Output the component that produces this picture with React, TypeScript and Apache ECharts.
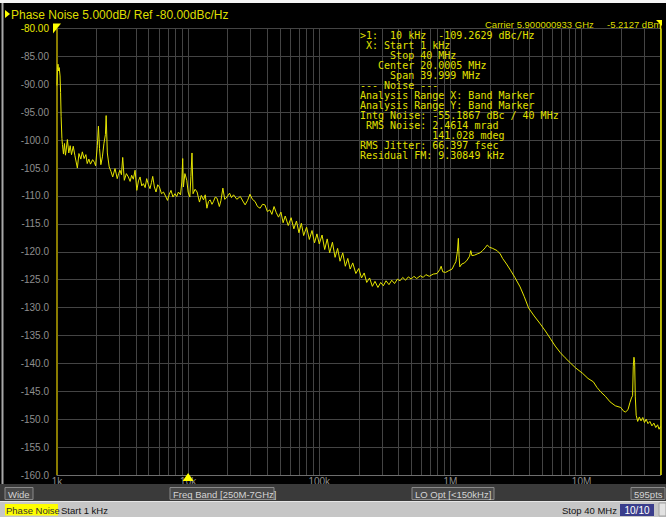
import React, { useEffect, useRef } from "react";
import * as echarts from "echarts";

// ---------- data ----------
const yMin = -160;
const yMax = -80;
const yStep = 5;
const xMinKHz = 1;
const xMaxKHz = 40000;
const xTickValues = [1, 10, 100, 1000, 10000];
const xTickLabels = ["1k", "10k", "100k", "1M", "10M"];
const decades = [1, 10, 100, 1000, 10000];
const minorMultipliers = [2, 3, 4, 5, 6, 7, 8, 9];
const markerKHz = 10;
const refLevel = -80;

// [frequency in kHz, phase noise in dBc/Hz]
const trace: [number, number][] = [
  [1.0, -90.2], [1.008, -87.3], [1.018, -86.4], [1.028, -87.6], [1.04, -87.0],
  [1.055, -88.5], [1.065, -91.5], [1.075, -95.8], [1.09, -99.7], [1.1, -100.8],
  [1.12, -102.5], [1.14, -100.6], [1.16, -102.7], [1.18, -101.4], [1.2, -99.9],
  [1.23, -102.3], [1.26, -101.0], [1.29, -102.6], [1.33, -101.1], [1.37, -102.8],
  [1.43, -105.0], [1.47, -102.4], [1.52, -103.4], [1.56, -102.1], [1.61, -103.3],
  [1.66, -102.6], [1.7, -104.2], [1.75, -103.4], [1.8, -104.3], [1.87, -103.5],
  [1.93, -104.0], [1.97, -104.6], [2.03, -101.0], [2.07, -97.5], [2.11, -101.5],
  [2.16, -104.4], [2.22, -103.0], [2.28, -100.6], [2.34, -99.0], [2.37, -95.6],
  [2.42, -102.3], [2.5, -104.8], [2.58, -105.6], [2.66, -106.6], [2.77, -105.1],
  [2.88, -106.9], [2.95, -106.0], [3.02, -105.4], [3.1, -106.2], [3.17, -103.1],
  [3.26, -107.2], [3.38, -106.0], [3.5, -106.6], [3.61, -107.4], [3.71, -106.3],
  [3.82, -107.0], [3.94, -105.4], [4.06, -109.0], [4.18, -107.3], [4.3, -106.6],
  [4.43, -108.2], [4.56, -107.8], [4.7, -108.5], [4.83, -106.9], [4.98, -108.0],
  [5.12, -108.7], [5.25, -107.6], [5.37, -106.5], [5.53, -108.4], [5.69, -109.3],
  [5.86, -108.0], [6.04, -108.4], [6.26, -109.6], [6.49, -109.3], [6.72, -110.0],
  [6.96, -110.8], [7.18, -109.7], [7.4, -109.0], [7.66, -110.2], [7.93, -109.6],
  [8.18, -110.1], [8.43, -109.3], [8.75, -109.8], [8.95, -107.5], [9.09, -103.3],
  [9.2, -108.4], [9.45, -106.0], [9.77, -107.2], [10.0, -109.3], [10.3, -110.2],
  [10.5, -106.5], [10.7, -102.3], [10.9, -109.6], [11.3, -108.8], [11.7, -109.3],
  [12.2, -111.1], [12.6, -109.9], [13.1, -110.7], [13.5, -109.8], [13.9, -112.2],
  [14.3, -111.0], [14.7, -110.7], [15.2, -111.5], [15.6, -111.0], [16.1, -110.2],
  [16.6, -110.4], [17.3, -111.9], [17.8, -110.8], [18.4, -108.6], [19.0, -110.6],
  [19.5, -110.4], [20.7, -109.5], [21.4, -110.3], [22.2, -109.8], [23.5, -110.6],
  [25.0, -110.1], [26.1, -110.9], [27.2, -111.6], [28.4, -110.8], [29.6, -109.7],
  [30.9, -110.6], [32.4, -111.0], [33.8, -111.9], [35.4, -112.2], [36.9, -111.5],
  [38.5, -111.6], [40.2, -112.8], [42.0, -112.5], [43.5, -113.3], [45.2, -111.9],
  [47.0, -113.0], [48.9, -113.8], [51, -112.9], [53, -114.8], [55, -113.6],
  [58, -115.3], [61, -113.9], [64, -115.9], [67, -114.5], [70, -116.6],
  [73, -114.9], [76, -117.1], [80, -115.6], [84, -117.8], [88, -116.2],
  [92, -118.4], [96, -116.8], [100, -118.6], [105, -117.0], [110, -119.6],
  [115, -117.7], [120, -120.2], [126, -118.3], [132, -121.0], [138, -119.4],
  [144, -121.7], [151, -120.2], [158, -122.6], [165, -121.2], [172, -123.1],
  [180, -122.0], [190, -123.9], [200, -123.0], [210, -124.7], [220, -123.8],
  [230, -125.5], [242, -124.7], [254, -126.2], [266, -125.3], [280, -126.4],
  [294, -125.5], [308, -126.1], [323, -125.2], [340, -125.9], [357, -125.1],
  [375, -125.7], [394, -124.9], [413, -125.2], [433, -124.6], [455, -125.1],
  [478, -124.5], [502, -124.9], [527, -124.4], [553, -124.8], [590, -124.3],
  [620, -124.6], [650, -124.1], [690, -124.4], [740, -124.0], [790, -123.9],
  [830, -123.2], [850, -122.6], [875, -123.6], [920, -123.7], [970, -123.4],
  [1030, -123.1], [1070, -122.3], [1100, -121.8], [1130, -120.0], [1150, -117.6],
  [1165, -121.0], [1180, -122.7], [1220, -122.2], [1280, -122.0], [1340, -121.5],
  [1400, -120.8], [1430, -119.8], [1460, -120.7], [1530, -120.6], [1600, -120.4],
  [1680, -120.2], [1760, -119.8], [1840, -119.3], [1910, -118.8], [1990, -119.2],
  [2100, -119.4], [2270, -119.8], [2400, -120.4], [2500, -121.2], [2680, -122.2],
  [2870, -123.3], [3100, -124.6], [3400, -126.3], [3650, -128.0], [3950, -130.1],
  [4350, -131.5], [4800, -132.8], [5300, -134.2], [5800, -135.6], [6300, -136.9],
  [6900, -138.1], [7500, -139.0], [8200, -139.9], [9000, -140.8], [10200, -141.8],
  [11200, -142.7], [12300, -143.3], [13100, -144.3], [14000, -145.1], [15200, -145.9],
  [16500, -146.9], [18100, -147.6], [19900, -147.9], [21000, -148.6], [21700, -148.7],
  [22600, -148.3], [23400, -147.0], [24000, -146.2], [24500, -145.8], [24800, -140.5],
  [25100, -138.9], [25400, -139.8], [25700, -146.0], [26100, -149.3], [26800, -150.4],
  [27600, -149.6], [28400, -150.3], [29300, -149.7], [30200, -150.6], [31100, -150.0],
  [32100, -150.8], [33200, -150.4], [34400, -151.2], [35600, -150.7], [36800, -151.5],
  [38000, -151.0], [39000, -151.8], [40000, -151.3],
];

const titleText = "Phase Noise 5.000dB/ Ref -80.00dBc/Hz";
const carrierText = "Carrier 5.900000933 GHz";
const powerText = "-5.2127 dBm";
const infoLines = [
  ">1:  10 kHz  -109.2629 dBc/Hz",
  " X: Start 1 kHz",
  "     Stop 40 MHz",
  "   Center 20.0005 MHz",
  "     Span 39.999 MHz",
  "--- Noise ---",
  "Analysis Range X: Band Marker",
  "Analysis Range Y: Band Marker",
  "Intg Noise: -55.1867 dBc / 40 MHz",
  " RMS Noise: 2.4614 mrad",
  "            141.028 mdeg",
  "RMS Jitter: 66.397 fsec",
  "Residual FM: 9.30849 kHz",
];
const barTexts = ["Wide", "Freq Band [250M-7GHz]", "LO Opt [<150kHz]", "595pts"];
const statusTexts = ["Phase Noise", "Start 1 kHz", "Stop 40 MHz", "10/10"];

// ---------- styles ----------
const YELLOW = "#e6e600";
const GRID = "#444444";
const LABEL = "#8e8e8e";
const SANS = "Liberation Sans";

export default function App() {
  const ref = useRef<HTMLDivElement>(null);

  useEffect(() => {
    if (!ref.current) return;
    const chart = echarts.init(ref.current, undefined, { renderer: "svg" });

    const minorFreqs: number[] = [];
    decades.forEach((d) =>
      minorMultipliers.forEach((m) => {
        const f = d * m;
        if (f < xMaxKHz) minorFreqs.push(f);
      })
    );

    const barBox = (x: number, w: number, text: string) => [
      {
        type: "rect",
        shape: { x, y: 487.5, width: w, height: 12 },
        style: { fill: "#4a4a4a", stroke: "#8a8a8a", lineWidth: 1 },
        z: 101,
      },
      {
        type: "text",
        style: {
          text,
          x: x + 3,
          y: 494,
          fill: "#d4d4d4",
          font: `9.5px "${SANS}"`,
          verticalAlign: "middle",
          align: "left",
        },
        z: 102,
      },
    ];

    const option: any = {
      animation: false,
      backgroundColor: "#000000",
      grid: { left: 57, right: 5.5, top: 28.5, bottom: 42, containLabel: false },
      xAxis: {
        type: "log",
        logBase: 10,
        min: xMinKHz,
        max: xMaxKHz,
        axisLine: { show: true, lineStyle: { color: "#6e6e6e", width: 1 } },
        axisTick: { show: false },
        axisLabel: {
          color: LABEL,
          fontSize: 10,
          fontFamily: SANS,
          margin: 1,
          formatter: (v: number) => {
            const i = xTickValues.findIndex((t) => Math.abs(t - v) < 1e-6 * t);
            return i >= 0 ? xTickLabels[i] : "";
          },
        },
        splitLine: { show: true, lineStyle: { color: GRID, width: 1 } },
      },
      yAxis: {
        type: "value",
        min: yMin,
        max: yMax,
        interval: yStep,
        axisLine: { show: false },
        axisTick: { show: false },
        axisLabel: {
          color: LABEL,
          fontSize: 10,
          fontFamily: SANS,
          margin: 8,
          formatter: (v: number) =>
            v === refLevel
              ? `{ref|${v.toFixed(2)}}`
              : v > -100
              ? v.toFixed(2)
              : v.toFixed(1),
          rich: { ref: { color: "#e8e800", fontSize: 10, fontFamily: SANS } },
        },
        splitLine: { show: true, lineStyle: { color: GRID, width: 1 } },
      },
      series: [
        {
          type: "line",
          data: trace,
          showSymbol: false,
          symbol: "none",
          z: 10,
          lineStyle: { color: YELLOW, width: 1 },
          itemStyle: { color: YELLOW },
          markLine: {
            silent: true,
            z: 1,
            symbol: ["none", "none"],
            label: { show: false },
            animation: false,
            data: [
              ...minorFreqs.map((f) => ({
                xAxis: f,
                lineStyle: { color: GRID, width: 1, type: "solid" },
              })),
              { xAxis: xMinKHz, lineStyle: { color: "#8a7c00", width: 2, type: "solid" } },
              { xAxis: xMaxKHz, lineStyle: { color: "#e8e800", width: 1.5, type: "solid" } },
            ],
          },
          markPoint: {
            silent: true,
            animation: false,
            label: { show: false },
            data: [
              {
                coord: [markerKHz, yMin],
                symbol: "triangle",
                symbolSize: [11, 8],
                symbolOffset: [0, 2],
                itemStyle: { color: "#ffff00" },
              },
              {
                coord: [xMinKHz, refLevel],
                symbol: "path://M0,0L10,0L0,13Z",
                symbolSize: [8, 10],
                itemStyle: { color: "#ffff00" },
              },
            ],
          },
        },
      ],
      graphic: [
        // frame
        { type: "rect", shape: { x: 0, y: 0, width: 666, height: 3 }, style: { fill: "#f4f4f4" }, z: 100 },
        { type: "rect", shape: { x: 1.5, y: 3, width: 2, height: 498 }, style: { fill: "#a8a8a8" }, z: 100 },
        // title
        { type: "polygon", shape: { points: [[5, 10], [10, 14], [5, 18]] }, style: { fill: "#ffff00" }, z: 100 },
        {
          type: "text",
          style: { text: titleText, x: 11, y: 14.5, fill: "#dede00", font: `12px "${SANS}"`, verticalAlign: "middle", align: "left" },
          z: 100,
        },
        {
          type: "text",
          style: { text: carrierText, x: 485, y: 24, fill: "#dede00", font: `9.5px "${SANS}"`, verticalAlign: "middle", align: "left" },
          z: 100,
        },
        {
          type: "text",
          style: { text: powerText, x: 607, y: 24, fill: "#dede00", font: `9.5px "${SANS}"`, verticalAlign: "middle", align: "left" },
          z: 100,
        },
        { type: "line", shape: { x1: 660.5, y1: 21, x2: 660.5, y2: 29 }, style: { stroke: "#e8e800", lineWidth: 1.5 }, z: 100 },
        { type: "polygon", shape: { points: [[656, 20], [662, 20], [662, 26]] }, style: { fill: "#ffff00" }, z: 100 },
        // info block
        {
          type: "text",
          style: {
            text: infoLines.join("\n"),
            x: 360,
            y: 30,
            fill: "#e0e000",
            font: '10px "DejaVu Sans Mono"',
            lineHeight: 10,
            verticalAlign: "top",
            align: "left",
          },
          z: 100,
        },
        // lower dark bar
        { type: "rect", shape: { x: 0, y: 484, width: 666, height: 17 }, style: { fill: "#3a3a3a" }, z: 100 },
        ...barBox(5, 28, barTexts[0]),
        ...barBox(170, 104, barTexts[1]),
        ...barBox(412, 82, barTexts[2]),
        ...barBox(631, 34, barTexts[3]),
        // status bar
        { type: "rect", shape: { x: 0, y: 501, width: 666, height: 16 }, style: { fill: "#c6c6c6" }, z: 100 },
        { type: "rect", shape: { x: 0, y: 501, width: 666, height: 1 }, style: { fill: "#e6e6e6" }, z: 101 },
        { type: "rect", shape: { x: 5, y: 504, width: 53, height: 11.5 }, style: { fill: "#ffff00" }, z: 101 },
        {
          type: "text",
          style: { text: statusTexts[0], x: 6, y: 510, fill: "#303030", font: `9.5px "${SANS}"`, verticalAlign: "middle", align: "left" },
          z: 102,
        },
        {
          type: "text",
          style: { text: statusTexts[1], x: 61, y: 510, fill: "#111111", font: `9.5px "${SANS}"`, verticalAlign: "middle", align: "left" },
          z: 102,
        },
        {
          type: "text",
          style: { text: statusTexts[2], x: 562, y: 510, fill: "#111111", font: `9.5px "${SANS}"`, verticalAlign: "middle", align: "left" },
          z: 102,
        },
        { type: "rect", shape: { x: 620, y: 504, width: 34, height: 12 }, style: { fill: "#3a3d8c" }, z: 101 },
        {
          type: "text",
          style: { text: statusTexts[3], x: 637, y: 510, fill: "#ffffff", font: `10px "${SANS}"`, verticalAlign: "middle", align: "center" },
          z: 102,
        },
        { type: "rect", shape: { x: 659, y: 503, width: 7, height: 13 }, style: { fill: "#e2e2e2", stroke: "#a0a0a0", lineWidth: 1 }, z: 101 },
      ],
    };

    chart.setOption(option);
    return () => chart.dispose();
  }, []);

  return (
    <div
      ref={ref}
      style={{ position: "fixed", left: 0, top: 0, width: 666, height: 517, background: "#000" }}
    />
  );
}
